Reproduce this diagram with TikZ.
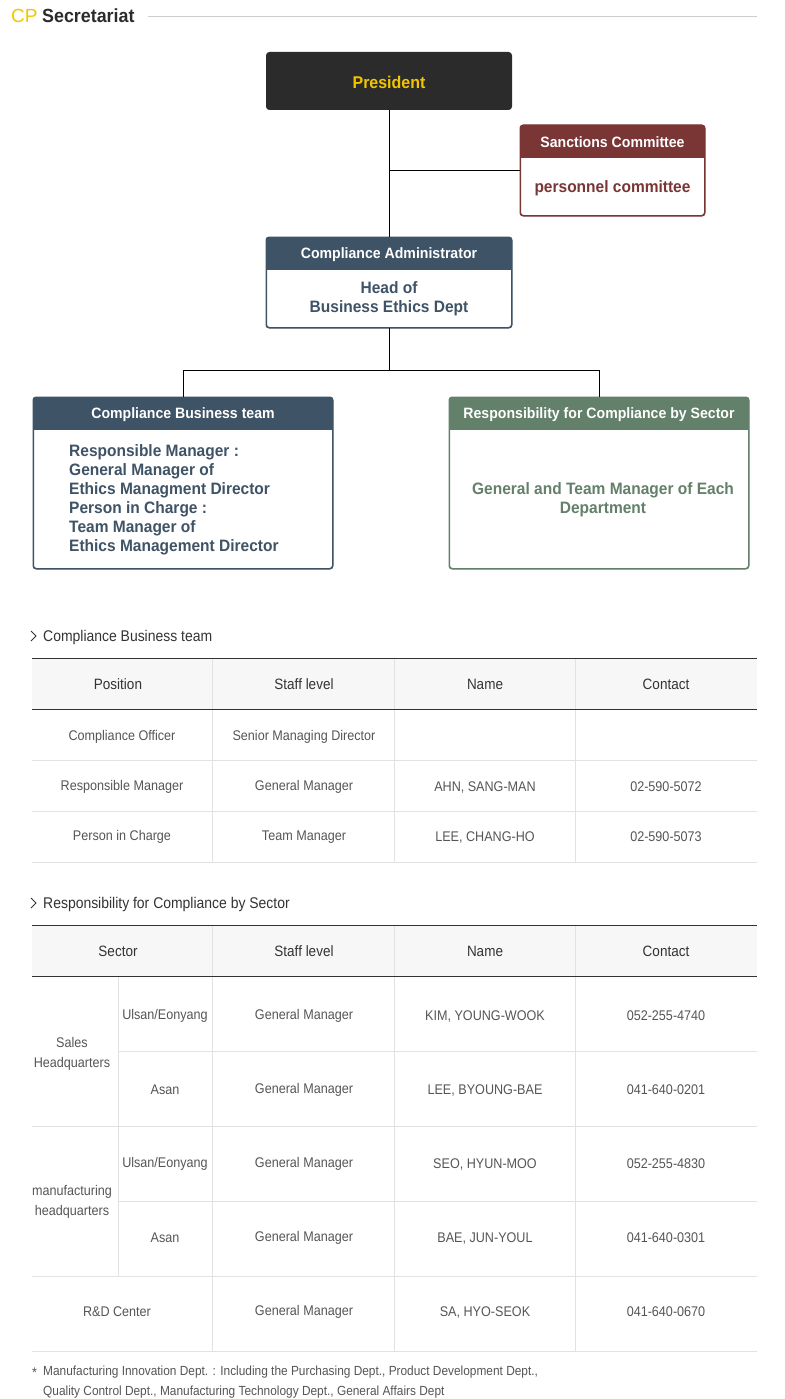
\documentclass[tikz,border=0pt]{standalone}
\usepackage{fontspec}
\setmainfont{Liberation Sans}
\newfontfamily\ttlfont[FakeStretch=0.94]{Liberation Sans}
\newfontfamily\tblfont[FakeStretch=0.9]{Liberation Sans}
\usetikzlibrary{calc}
\definecolor{presc}{HTML}{2B2B2B}
\definecolor{gold}{HTML}{F2C500}
\definecolor{wine}{HTML}{7A3535}
\definecolor{slate}{HTML}{3F5366}
\definecolor{sage}{HTML}{62806A}
\definecolor{hdrbg}{HTML}{F7F7F7}
\definecolor{rulec}{HTML}{E2E2E2}
\definecolor{darkrule}{HTML}{333333}
\definecolor{txt}{HTML}{555555}
\definecolor{hdtxt}{HTML}{333333}
\tikzset{
  x=1pt, y=-1pt,
  orgbox/.style={rounded corners=3pt, fill=white, inner sep=0pt, anchor=north west, line width=1pt},
  boxtitle/.style={text=white, font=\ttlfont\bfseries\fontsize{15}{17}\selectfont, inner sep=0pt},
  boxbody/.style={inner sep=0pt, font=\ttlfont\bfseries\fontsize{16.5}{19}\selectfont},
  conn/.style={draw=black, line width=0.9pt},
  thead/.style={inner sep=0pt, text=hdtxt, font=\tblfont\fontsize{15}{17}\selectfont},
  tcell/.style={inner sep=0pt, text=txt, font=\tblfont\fontsize{14}{20}\selectfont, align=center},
  seclabel/.style={inner sep=0pt, anchor=west, text=hdtxt, font=\tblfont\fontsize{15.5}{18}\selectfont},
  lightrule/.style={draw=rulec, line width=0.8pt},
  heavyrule/.style={draw=darkrule, line width=1pt},
}
\begin{document}
\begin{tikzpicture}
\useasboundingbox (0,0) rectangle (784,1399);

% ---------- page header ----------
\node[inner sep=0pt, anchor=west, text=gold, font=\fontsize{19}{22}\selectfont] (cp) at (11,16) {CP};
\node[inner sep=0pt, anchor=west, text=presc, font=\ttlfont\bfseries\fontsize{19}{22}\selectfont] (sec) at (42,16) {Secretariat};
\draw[draw=rulec!80!gray, line width=0.8pt] (148,16) -- (757,16);

% ---------- President ----------
\node[orgbox, fill=presc, draw=presc, minimum width=245pt, minimum height=57pt] (pres) at (266,52) {};
\node[inner sep=0pt, text=gold, font=\ttlfont\bfseries\fontsize{17}{19}\selectfont] (pres-t) at ($(pres.center)+(0,1)$) {President};

% ---------- boxes with header band ----------
% Sanctions Committee
\node[orgbox, draw=wine, minimum width=184pt, minimum height=90pt] (sanc) at (520,125) {};
\begin{scope}
  \clip[rounded corners=3pt] (sanc.north west) rectangle (sanc.south east);
  \fill[wine] (sanc.north west) rectangle ($(sanc.north east)+(0,33)$);
\end{scope}
\draw[wine, line width=1pt, rounded corners=3pt] (sanc.north west) rectangle (sanc.south east);
\node[boxtitle] (sanc-t) at ($(sanc.north)+(0,17.5)$) {Sanctions Committee};
\node[boxbody, text=wine] (sanc-b) at ($(sanc.north)+(0,63)$) {personnel committee};

% Compliance Administrator
\node[orgbox, draw=slate, minimum width=245pt, minimum height=90pt] (admin) at (266,237) {};
\begin{scope}
  \clip[rounded corners=3pt] (admin.north west) rectangle (admin.south east);
  \fill[slate] (admin.north west) rectangle ($(admin.north east)+(0,33)$);
\end{scope}
\draw[slate, line width=1pt, rounded corners=3pt] (admin.north west) rectangle (admin.south east);
\node[boxtitle] (admin-t) at ($(admin.north)+(0,18)$) {Compliance Administrator};
\node[boxbody, text=slate, align=center] (admin-b) at ($(admin.north)+(0,61.5)$) {Head of\\Business Ethics Dept};

% Compliance Business team
\node[orgbox, draw=slate, minimum width=299pt, minimum height=171pt] (cbt) at (33,397) {};
\begin{scope}
  \clip[rounded corners=3pt] (cbt.north west) rectangle (cbt.south east);
  \fill[slate] (cbt.north west) rectangle ($(cbt.north east)+(0,33)$);
\end{scope}
\draw[slate, line width=1pt, rounded corners=3pt] (cbt.north west) rectangle (cbt.south east);
\node[boxtitle] (cbt-t) at ($(cbt.north)+(0,18)$) {Compliance Business team};
\node[boxbody, text=slate, align=left, anchor=west] (cbt-b) at (69,499.5) {Responsible Manager :\\General Manager of\\Ethics Managment Director\\Person in Charge :\\Team Manager of\\Ethics Management Director};

% Responsibility for Compliance by Sector
\node[orgbox, draw=sage, minimum width=299pt, minimum height=171pt] (rcs) at (449,397) {};
\begin{scope}
  \clip[rounded corners=3pt] (rcs.north west) rectangle (rcs.south east);
  \fill[sage] (rcs.north west) rectangle ($(rcs.north east)+(0,33)$);
\end{scope}
\draw[sage, line width=1pt, rounded corners=3pt] (rcs.north west) rectangle (rcs.south east);
\node[boxtitle] (rcs-t) at ($(rcs.north)+(0,18)$) {Responsibility for Compliance by Sector};
\node[boxbody, text=sage, align=center] (rcs-b) at (603,499.5) {General and Team Manager of Each\\Department};

% ---------- connectors ----------
\coordinate (j) at (389,370);
\draw[conn] (pres.south) -- (admin.north);
\draw[conn] (sanc.west) -- (sanc.west -| pres.south);
\draw[conn] (admin.south) -- (j);
\draw[conn] (j) -| (cbt.north);
\draw[conn] (j) -| (rcs.north);

% ---------- table 1 ----------
\draw[draw=darkrule, line width=0.8pt] (31,631) -- (36,636) -- (31,641);
\node[seclabel] (sec1) at (43,637) {Compliance Business team};
\fill[hdrbg] (32,658) rectangle (757,709);
\foreach \yy in {760,811,862} \draw[lightrule] (32,\yy) -- (757,\yy);
\foreach \xx in {212,394,575} \draw[lightrule] (\xx,658) -- (\xx,862);
\draw[heavyrule] (32,658) -- (757,658);
\draw[heavyrule] (32,709) -- (757,709);
\node[thead] (t1h1) at (118,684) {Position};
\node[thead] (t1h2) at (304,684) {Staff level};
\node[thead] (t1h3) at (485,684) {Name};
\node[thead] (t1h4) at (666,684) {Contact};
\node[tcell] (t1a1) at (122,737) {Compliance Officer};
\node[tcell] (t1a2) at (304,737) {Senior Managing Director};
\node[tcell] (t1b1) at (122,787) {Responsible Manager};
\node[tcell] (t1b2) at (304,787) {General Manager};
\node[tcell] (t1b3) at (485,787) {AHN, SANG-MAN};
\node[tcell] (t1b4) at (666,787) {02-590-5072};
\node[tcell] (t1c1) at (122,837) {Person in Charge};
\node[tcell] (t1c2) at (304,837) {Team Manager};
\node[tcell] (t1c3) at (485,837) {LEE, CHANG-HO};
\node[tcell] (t1c4) at (666,837) {02-590-5073};

% ---------- table 2 ----------
\draw[draw=darkrule, line width=0.8pt] (31,898) -- (36,903) -- (31,908);
\node[seclabel] (sec2) at (43,904) {Responsibility for Compliance by Sector};
\fill[hdrbg] (32,925) rectangle (757,976);
\draw[lightrule] (118,1051) -- (757,1051);
\draw[lightrule] (32,1126) -- (757,1126);
\draw[lightrule] (118,1201) -- (757,1201);
\draw[lightrule] (32,1276) -- (757,1276);
\draw[lightrule] (32,1351) -- (757,1351);
\draw[lightrule] (118,976) -- (118,1276);
\foreach \xx in {212,394,575} \draw[lightrule] (\xx,925) -- (\xx,1351);
\draw[heavyrule] (32,925) -- (757,925);
\draw[heavyrule] (32,976) -- (757,976);
\node[thead] (t2h1) at (118,951) {Sector};
\node[thead] (t2h2) at (304,951) {Staff level};
\node[thead] (t2h3) at (485,951) {Name};
\node[thead] (t2h4) at (666,951) {Contact};

\node[tcell] (g1) at (72,1054) {Sales\\Headquarters};
\node[tcell] (g2) at (72,1202) {manufacturing\\headquarters};

\node[tcell] (r1a) at (165,1016) {Ulsan/Eonyang};
\node[tcell] (r1b) at (304,1016) {General Manager};
\node[tcell] (r1c) at (485,1016) {KIM, YOUNG-WOOK};
\node[tcell] (r1d) at (666,1016) {052-255-4740};

\node[tcell] (r2a) at (165,1090) {Asan};
\node[tcell] (r2b) at (304,1090) {General Manager};
\node[tcell] (r2c) at (485,1090) {LEE, BYOUNG-BAE};
\node[tcell] (r2d) at (666,1090) {041-640-0201};

\node[tcell] (r3a) at (165,1164) {Ulsan/Eonyang};
\node[tcell] (r3b) at (304,1164) {General Manager};
\node[tcell] (r3c) at (485,1164) {SEO, HYUN-MOO};
\node[tcell] (r3d) at (666,1164) {052-255-4830};

\node[tcell] (r4a) at (165,1238) {Asan};
\node[tcell] (r4b) at (304,1238) {General Manager};
\node[tcell] (r4c) at (485,1238) {BAE, JUN-YOUL};
\node[tcell] (r4d) at (666,1238) {041-640-0301};

\node[tcell] (r5a) at (117,1312) {R\&D Center};
\node[tcell] (r5b) at (304,1312) {General Manager};
\node[tcell] (r5c) at (485,1312) {SA, HYO-SEOK};
\node[tcell] (r5d) at (666,1312) {041-640-0670};

% ---------- footnote ----------
\node[inner sep=0pt, anchor=west, text=txt, font=\tblfont\fontsize{14}{20}\selectfont] (fnstar) at (32,1373) {*};
\node[inner sep=0pt, anchor=north west, text=txt, align=left, font=\tblfont\fontsize{13.2}{20}\selectfont] (fn) at (43,1366) {Manufacturing Innovation Dept. : Including the Purchasing Dept., Product Development Dept.,\\Quality Control Dept., Manufacturing Technology Dept., General Affairs Dept};
\end{tikzpicture}
\end{document}
